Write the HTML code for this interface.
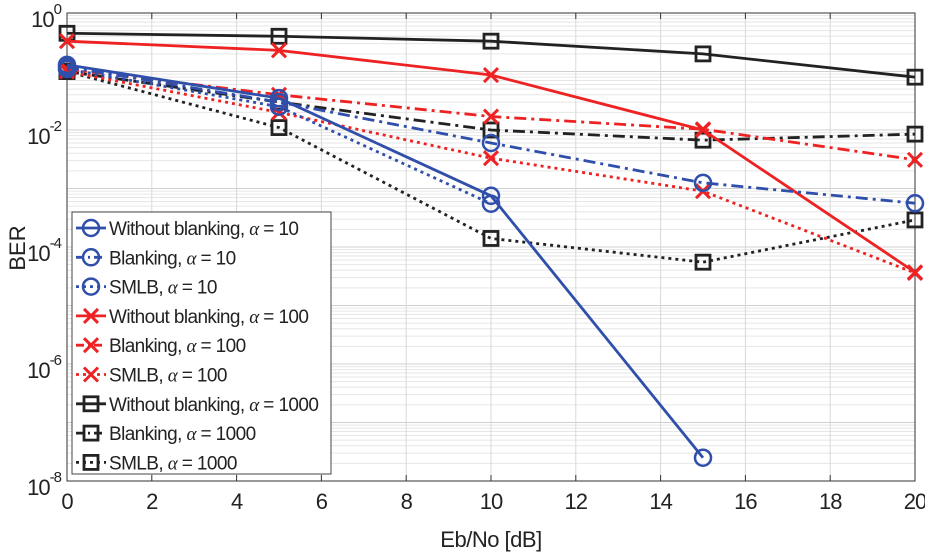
<!DOCTYPE html>
<html><head><meta charset="utf-8"><style>
body{margin:0;background:#fff;}
svg{display:block;font-family:"Liberation Sans",sans-serif;}
</style></head><body>
<svg id="c" width="925" height="555"></svg>
<script>
const xs=[0,5,10,15,20];
const woB10=[0.13,0.035,7.5e-4,2.5e-8];
const bl10=[0.12,0.03,6e-3,1.25e-3,5.6e-4];
const sm10=[0.11,0.025,5.5e-4];
const woB100=[0.33,0.23,0.087,0.0100,3.7e-5];
const bl100=[0.11,0.04,0.017,0.0103,3.1e-3];
const sm100=[0.10,0.02,3.3e-3,9e-4,3.6e-5];
const woB1000=[0.45,0.40,0.33,0.20,0.08];
const bl1000=[0.10,0.03,0.010,6.7e-3,8.5e-3];
const sm1000=[0.10,0.011,1.4e-4,5.5e-5,2.9e-4];
const xTicks=[0,2,4,6,8,10,12,14,16,18,20];
const yExps=[0,-2,-4,-6,-8];
const L=67,R=915,T=13,B=481;
const X=v=>L+(v/20)*(R-L);
const Y=v=>T+(-Math.log10(v))/8*(B-T);
const NS="http://www.w3.org/2000/svg";
const svg=document.getElementById('c');
function mk(tag,attrs,parent){const e=document.createElementNS(NS,tag);for(const k in attrs)e.setAttribute(k,attrs[k]);(parent||svg).appendChild(e);return e;}
const g=mk('g',{});


for(let d=0;d<8;d++){for(let m=2;m<10;m++){const y=Y(Math.pow(10,-d-1)*m);mk('line',{x1:L,x2:R,y1:y,y2:y,stroke:'#e6e6e6','stroke-width':1},g);}}
for(let d=0;d<=8;d++){const y=Y(Math.pow(10,-d));mk('line',{x1:L,x2:R,y1:y,y2:y,stroke:'#d0d0d0','stroke-width':1},g);}
xTicks.forEach(t=>{mk('line',{x1:X(t),x2:X(t),y1:T,y2:B,stroke:'#d8d8d8','stroke-width':1},g);});
mk('rect',{x:L,y:T,width:R-L,height:B-T,fill:'none',stroke:'#333','stroke-width':1});
xTicks.forEach(t=>{mk('line',{x1:X(t),x2:X(t),y1:B,y2:B-6,stroke:'#333'});mk('line',{x1:X(t),x2:X(t),y1:T,y2:T+6,stroke:'#333'});
 const tx=mk('text',{x:X(t),y:B+28,'font-size':22,'text-anchor':'middle',fill:'#222','letter-spacing':-1});tx.textContent=t;
 
 });
yExps.forEach(e=>{const y=Y(Math.pow(10,e));
 const tx=mk('text',{x:L-6,y:y+14,'font-size':22,'text-anchor':'end',fill:'#222','letter-spacing':-1});
 
 
 tx.innerHTML='10<tspan dy="-13" font-size="15">'+e+'</tspan>';});
const xl=mk('text',{x:491,y:547,'font-size':22,'text-anchor':'middle',fill:'#222','letter-spacing':-0.5});xl.textContent='Eb/No [dB]';


const yl=mk('text',{x:0,y:0,'font-size':22,'text-anchor':'middle',fill:'#222',transform:'translate(25,248) rotate(-90)'});yl.textContent='BER';


const BLUE='#2f4faa',RED='#ee2222',BLK='#222';
const dash={solid:'',dash:'12,5,3,5',dot:'3,4'};
function marker(p,type,x,y,col){
 if(type==='o')mk('ellipse',{cx:x,cy:y,rx:8,ry:8,fill:'none',stroke:col,'stroke-width':2.5},p);
 else if(type==='x'){mk('path',{d:`M${x-7} ${y-7}L${x+7} ${y+7}M${x-7} ${y+7}L${x+7} ${y-7}`,stroke:col,'stroke-width':3},p);}
 else mk('rect',{x:x-7,y:y-7,width:14,height:14,fill:'none',stroke:col,'stroke-width':2.8},p);
}
const series=[
 ['without-blanking-10',woB10,BLUE,'solid','o'],['blanking-10',bl10,BLUE,'dash','o'],['smlb-10',sm10,BLUE,'dot','o'],
 ['without-blanking-100',woB100,RED,'solid','x'],['blanking-100',bl100,RED,'dash','x'],['smlb-100',sm100,RED,'dot','x'],
 ['without-blanking-1000',woB1000,BLK,'solid','s'],['blanking-1000',bl1000,BLK,'dash','s'],['smlb-1000',sm1000,BLK,'dot','s']];
series.slice().reverse().forEach(s=>{
 const p=mk('g',{});
 
 
 const pts=s[1].map((v,i)=>X(xs[i])+','+Y(v)).join(' ');
 mk('polyline',{points:pts,fill:'none',stroke:s[2],'stroke-width':2.8,'stroke-dasharray':dash[s[3]]},p);
 s[1].forEach((v,i)=>marker(p,s[4],X(xs[i]),Y(v),s[2]));
});
const labels=['Without blanking, ','Blanking, ','SMLB, '];
const alphas=['10','100','1000'];
const lg=mk('g',{});


mk('rect',{x:72,y:212,width:259,height:262,fill:'#fff',stroke:'#444','stroke-width':1},lg);
series.forEach((s,i)=>{
 const y=228+i*29.3;
 const e=mk('g',{},lg);
 
 
 mk('line',{x1:76,x2:106,y1:y,y2:y,stroke:s[2],'stroke-width':2.8,'stroke-dasharray':s[3]==='dash'?'8,4,2,4':dash[s[3]]},e);
 marker(e,s[4],91,y,s[2]);
 const t=mk('text',{x:109,y:y+7,'font-size':19,fill:'#222','letter-spacing':-0.6},e);
 t.innerHTML=labels[i%3]+'<tspan font-family="Liberation Serif" font-style="italic">α</tspan> = '+alphas[Math.floor(i/3)];
});
</script>
</body></html>
